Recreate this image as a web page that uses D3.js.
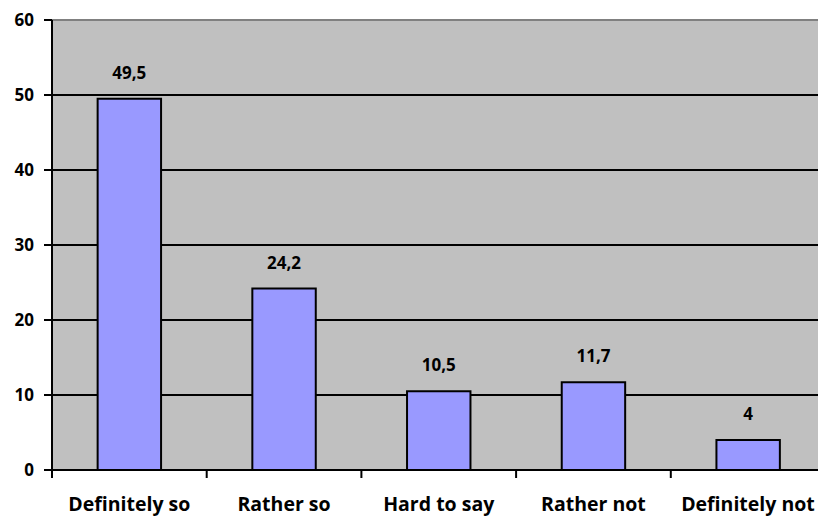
<!DOCTYPE html>
<html><head><meta charset="utf-8">
<script src="https://cdn.jsdelivr.net/npm/d3@7"></script>
<style>body{margin:0;background:#fff}svg{display:block}text{font-family:"Open Sans",Lato,sans-serif;font-weight:bold;fill:#000}</style>
</head><body><svg id="c" width="818" height="517"></svg>
<script>
const categories = ["Definitely so","Rather so","Hard to say","Rather not","Definitely not"];
const values = [49.5, 24.2, 10.5, 11.7, 4];
const valueLabels = ["49,5","24,2","10,5","11,7","4"];
const yTicks = [0,10,20,30,40,50,60];

const svg = d3.select("#c");
const L = 52, R = 825.5, T = 20, B = 470;
const x = d3.scaleBand().domain(categories).range([L, R]).paddingInner(0.59).paddingOuter(0.295);
const band = d3.scaleBand().domain(categories).range([L, R]);
const y = d3.scaleLinear().domain([0, 60]).range([B, T]);

svg.append("rect").attr("x", L).attr("y", T).attr("width", R - L).attr("height", B - T).attr("fill", "#C0C0C0");
svg.append("line").attr("x1", L).attr("x2", R).attr("y1", T).attr("y2", T).attr("stroke", "#808080").attr("stroke-width", 2);
svg.selectAll("line.grid").data(yTicks.filter(d => d > 0 && d < 60)).enter().append("line")
  .attr("x1", L).attr("x2", R).attr("y1", d => y(d)).attr("y2", d => y(d)).attr("stroke", "#000").attr("stroke-width", 2);

svg.selectAll("rect.bar").data(values).enter().append("rect")
  .attr("x", (d, i) => x(categories[i])).attr("width", x.bandwidth())
  .attr("y", d => y(d)).attr("height", d => B - y(d))
  .attr("fill", "#9999FF").attr("stroke", "#000").attr("stroke-width", 2);

svg.selectAll("text.val").data(values).enter().append("text")
  .attr("x", (d, i) => x(categories[i]) + x.bandwidth() / 2).attr("y", d => y(d) - 20)
  .attr("text-anchor", "middle").attr("font-size", 17).text((d, i) => valueLabels[i]);

// axes
svg.append("line").attr("x1", L).attr("x2", L).attr("y1", T).attr("y2", B + 1).attr("stroke", "#000").attr("stroke-width", 2);
svg.append("line").attr("x1", L).attr("x2", R).attr("y1", B).attr("y2", B).attr("stroke", "#000").attr("stroke-width", 2);
svg.selectAll("line.yt").data(yTicks).enter().append("line")
  .attr("x1", L - 8).attr("x2", L).attr("y1", d => y(d)).attr("y2", d => y(d)).attr("stroke", "#000").attr("stroke-width", 2);
svg.selectAll("text.yl").data(yTicks).enter().append("text")
  .attr("x", 34).attr("y", d => y(d)).attr("dy", "0.36em").attr("text-anchor", "end").attr("font-size", 17).text(d => d);
const bounds = categories.map(c => band(c)).concat([R]);
svg.selectAll("line.xt").data(bounds).enter().append("line")
  .attr("x1", d => d).attr("x2", d => d).attr("y1", B).attr("y2", B + 8).attr("stroke", "#000").attr("stroke-width", 2);
svg.selectAll("text.cat").data(categories).enter().append("text")
  .attr("x", d => Math.min(band(d) + band.bandwidth() / 2, 818 - 70)).attr("y", 511)
  .attr("text-anchor", "middle").attr("font-size", 19.5).text(d => d);
</script></body></html>
